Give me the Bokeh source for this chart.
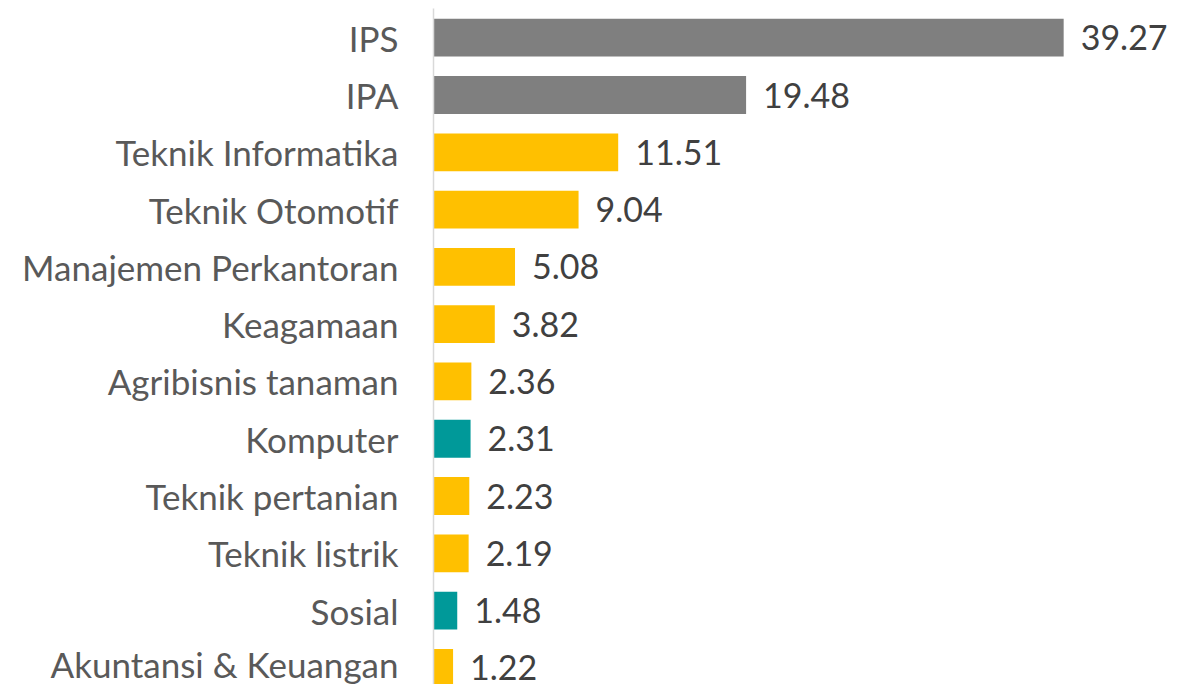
from bokeh.plotting import figure
from bokeh.models import ColumnDataSource, Range1d, FixedTicker
from bokeh.core.properties import value
from bokeh.embed import file_html
from bokeh.resources import INLINE

categories = ["IPS", "IPA", "Teknik Informatika", "Teknik Otomotif",
              "Manajemen Perkantoran", "Keagamaan", "Agribisnis tanaman",
              "Komputer", "Teknik pertanian", "Teknik listrik", "Sosial",
              "Akuntansi & Keuangan"]
values = [39.27, 19.48, 11.51, 9.04, 5.08, 3.82, 2.36, 2.31, 2.23, 2.19, 1.48, 1.22]
groups = ["umum", "umum", "kejuruan", "kejuruan", "kejuruan", "kejuruan",
          "kejuruan", "lain", "kejuruan", "kejuruan", "lain", "kejuruan"]
group_colors = {"umum": "#7F7F7F", "kejuruan": "#FFC000", "lain": "#009999"}

pos = list(range(len(categories)))
src = ColumnDataSource(dict(
    y=pos,
    v=values,
    color=[group_colors[g] for g in groups],
    label=[f"{v:.2f}" for v in values],
))

FONT = "Lato"

p = figure(width=1184, height=684, output_backend="svg", toolbar_location=None,
           x_range=Range1d(0, 46.8), y_range=Range1d(11.29, -0.51),
           min_border_left=433, min_border_right=0, min_border_top=8,
           min_border_bottom=0)

p.hbar(y="y", right="v", left=0, height=0.66, color="color", line_color=None,
       source=src)
p.text(x="v", y="y", text="label", source=src, x_offset=17,
       text_baseline="middle", text_align="left",
       text_font=value(FONT), text_font_size="34px", text_color="#404040")

p.xaxis.visible = False
p.xgrid.visible = False
p.ygrid.visible = False
p.outline_line_color = None

ya = p.yaxis[0]
ya.ticker = FixedTicker(ticks=pos)
ya.major_label_overrides = {i: c for i, c in enumerate(categories)}
ya.major_tick_line_color = None
ya.minor_tick_line_color = None
ya.axis_line_color = "#D9D9D9"
ya.axis_line_width = 1.5
ya.major_label_standoff = 29
ya.major_label_text_font = FONT
ya.major_label_text_font_size = "35px"
ya.major_label_text_color = "#595959"

open("out.html", "w").write(file_html(p, INLINE))
